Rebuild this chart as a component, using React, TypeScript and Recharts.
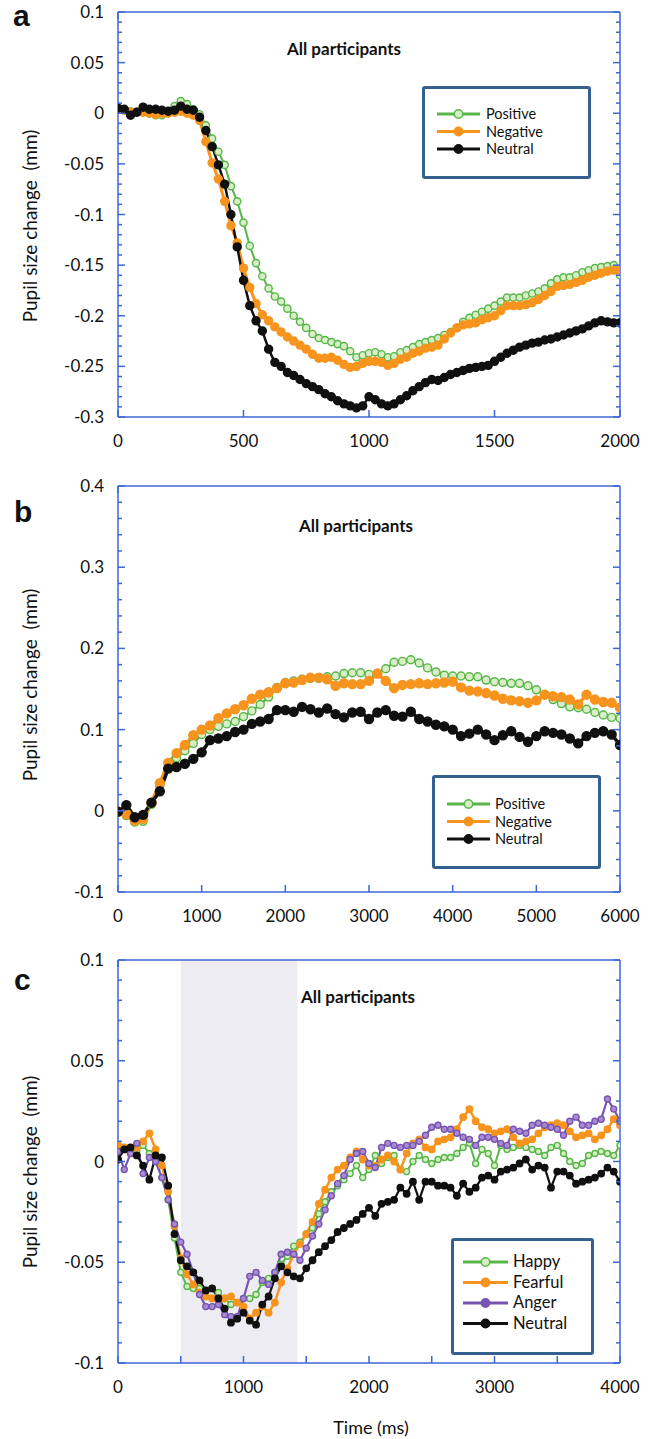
import React from 'react';
import { LineChart, Line, XAxis, YAxis, ReferenceArea } from 'recharts';

const BLUE = '#3e66d6';
const FRAME = '#33608f';
const FONT = 'Lato, "Open Sans", Arial, sans-serif';

const GREEN = '#58b649';
const GREEN_FILL = '#d7eec6';
const ORANGE = '#f7941e';
const BLACK = '#101010';
const PURPLE = '#7654b2';
const PURPLE_FILL = '#a98bd3';

// ---- panel a: 0-2000 ms, valence
const timeA = [
  0, 25, 50, 75, 100, 125, 150, 175, 200, 225, 250, 275, 300, 325, 350, 375, 400, 425, 450, 475,
  500, 525, 550, 575, 600, 625, 650, 675, 700, 725, 750, 775, 800, 825, 850, 875, 900, 925, 950, 975,
  1000, 1025, 1050, 1075, 1100, 1125, 1150, 1175, 1200, 1225, 1250, 1275, 1300, 1325, 1350, 1375, 1400, 1425, 1450, 1475,
  1500, 1525, 1550, 1575, 1600, 1625, 1650, 1675, 1700, 1725, 1750, 1775, 1800, 1825, 1850, 1875, 1900, 1925, 1950, 1975,
  2000,
];
const positiveA = [
  0.004, 0.003, 0.002, 0.001, 0.001, 0.0, -0.002, -0.002, 0.002, 0.007,
  0.012, 0.009, 0.004, -0.001, -0.012, -0.025, -0.038, -0.051, -0.072, -0.087,
  -0.108, -0.131, -0.148, -0.161, -0.173, -0.181, -0.186, -0.193, -0.2, -0.206,
  -0.212, -0.218, -0.222, -0.224, -0.226, -0.228, -0.23, -0.235, -0.241, -0.239,
  -0.237, -0.236, -0.238, -0.241, -0.24, -0.236, -0.234, -0.231, -0.228, -0.226,
  -0.224, -0.222, -0.219, -0.216, -0.212, -0.206, -0.202, -0.199, -0.196, -0.193,
  -0.19, -0.186, -0.182, -0.182, -0.182, -0.18, -0.178, -0.176, -0.173, -0.168,
  -0.164, -0.162, -0.162, -0.16, -0.157, -0.155, -0.153, -0.152, -0.151, -0.15,
  -0.16,
];
const negativeA = [
  0.004, 0.003, 0.001, 0.001, 0.001, 0.0, -0.001, 0.0, 0.0, 0.001,
  0.002, 0.0, -0.002, -0.007, -0.028, -0.049, -0.065, -0.087, -0.111, -0.128,
  -0.153, -0.172, -0.188, -0.199, -0.205, -0.211, -0.216, -0.221, -0.225, -0.229,
  -0.233, -0.238, -0.242, -0.242, -0.241, -0.244, -0.248, -0.251, -0.25, -0.247,
  -0.245, -0.245, -0.246, -0.249, -0.247, -0.243, -0.241, -0.237, -0.235, -0.232,
  -0.231, -0.229, -0.223, -0.217, -0.212, -0.209, -0.208, -0.207, -0.204, -0.202,
  -0.2, -0.195, -0.19, -0.19, -0.19, -0.189, -0.187, -0.184, -0.18, -0.176,
  -0.171, -0.17, -0.169, -0.167, -0.165, -0.162, -0.16, -0.158, -0.156, -0.155,
  -0.155,
];
const neutralA = [
  0.005, 0.004, -0.002, 0.001, 0.006, 0.004, 0.004, 0.003, 0.002, 0.003,
  0.007, 0.004, 0.003, -0.004, -0.017, -0.033, -0.051, -0.07, -0.1, -0.132,
  -0.165, -0.19, -0.205, -0.215, -0.233, -0.246, -0.25, -0.256, -0.259, -0.263,
  -0.267, -0.27, -0.273, -0.277, -0.28, -0.284, -0.287, -0.289, -0.291, -0.289,
  -0.28, -0.283, -0.287, -0.289, -0.287, -0.283, -0.279, -0.274, -0.27, -0.266,
  -0.263, -0.264, -0.261, -0.258, -0.256, -0.254, -0.252, -0.251, -0.25, -0.249,
  -0.245, -0.241, -0.237, -0.234, -0.231, -0.229, -0.227, -0.226, -0.224, -0.223,
  -0.221, -0.219, -0.217, -0.215, -0.213, -0.21, -0.207, -0.205, -0.206, -0.207,
  -0.207,
];

// ---- panel b: 0-6000 ms, valence
const timeB = [
  0, 100, 200, 300, 400, 500, 600, 700, 800, 900, 1000, 1100, 1200, 1300, 1400, 1500, 1600, 1700, 1800, 1900,
  2000, 2100, 2200, 2300, 2400, 2500, 2600, 2700, 2800, 2900, 3000, 3100, 3200, 3300, 3400, 3500, 3600, 3700, 3800, 3900,
  4000, 4100, 4200, 4300, 4400, 4500, 4600, 4700, 4800, 4900, 5000, 5100, 5200, 5300, 5400, 5500, 5600, 5700, 5800, 5900,
  6000,
];
const positiveB = [
  -0.002, -0.006, -0.014, -0.013, 0.008, 0.03, 0.052, 0.065, 0.074, 0.083,
  0.094, 0.1, 0.104, 0.107, 0.11, 0.116, 0.123, 0.131, 0.14, 0.152,
  0.158, 0.16, 0.162, 0.163, 0.163, 0.165, 0.166, 0.169, 0.17, 0.17,
  0.168, 0.169, 0.175, 0.183, 0.184, 0.186, 0.182, 0.176, 0.171, 0.167,
  0.166, 0.166, 0.165, 0.165, 0.161, 0.159, 0.158, 0.157, 0.157, 0.154,
  0.149, 0.143, 0.137, 0.132, 0.128, 0.127, 0.125, 0.121, 0.118, 0.115,
  0.114,
];
const negativeB = [
  -0.001, -0.004, -0.012, -0.01, 0.01, 0.034, 0.059, 0.071, 0.081, 0.093,
  0.1, 0.105, 0.114, 0.12, 0.125, 0.13, 0.138, 0.143, 0.146, 0.151,
  0.157, 0.158, 0.161, 0.164, 0.164, 0.162, 0.154, 0.157, 0.156, 0.156,
  0.16, 0.169, 0.16, 0.151, 0.155, 0.156, 0.157, 0.156, 0.157, 0.158,
  0.159, 0.152, 0.148, 0.147, 0.145, 0.142, 0.138, 0.136, 0.135, 0.133,
  0.136, 0.143, 0.141, 0.14, 0.137, 0.131, 0.143, 0.137, 0.134, 0.133,
  0.127,
];
const neutralB = [
  -0.001, 0.007, -0.008, -0.005, 0.01, 0.024, 0.052, 0.054, 0.058, 0.064,
  0.072, 0.087, 0.089, 0.092, 0.097, 0.1, 0.107, 0.11, 0.113, 0.124,
  0.124, 0.122, 0.128, 0.125, 0.121, 0.126, 0.119, 0.115, 0.121, 0.122,
  0.113, 0.121, 0.124, 0.117, 0.116, 0.122, 0.113, 0.11, 0.106, 0.104,
  0.1, 0.092, 0.095, 0.1, 0.094, 0.087, 0.093, 0.098, 0.091, 0.085,
  0.092, 0.098, 0.096, 0.094, 0.089, 0.083, 0.092, 0.096, 0.098, 0.094,
  0.081,
];

// ---- panel c: 0-4000 ms, expressions
const timeC = [
  0, 50, 100, 150, 200, 250, 300, 350, 400, 450, 500, 550, 600, 650, 700, 750, 800, 850, 900, 950,
  1000, 1050, 1100, 1150, 1200, 1250, 1300, 1350, 1400, 1450, 1500, 1550, 1600, 1650, 1700, 1750, 1800, 1850, 1900, 1950,
  2000, 2050, 2100, 2150, 2200, 2250, 2300, 2350, 2400, 2450, 2500, 2550, 2600, 2650, 2700, 2750, 2800, 2850, 2900, 2950,
  3000, 3050, 3100, 3150, 3200, 3250, 3300, 3350, 3400, 3450, 3500, 3550, 3600, 3650, 3700, 3750, 3800, 3850, 3900, 3950,
  4000,
];
const happyC = [
  0.008, 0.007, 0.006, 0.005, 0.008, 0.004, 0.0, -0.008, -0.019, -0.038,
  -0.055, -0.062, -0.063, -0.063, -0.064, -0.063, -0.065, -0.068, -0.071, -0.07,
  -0.068, -0.068, -0.066, -0.06, -0.058, -0.055, -0.051, -0.047, -0.042, -0.04,
  -0.036, -0.033, -0.026, -0.02, -0.015, -0.012, -0.009, -0.006, -0.002, -0.008,
  -0.004, 0.003, -0.001, 0.002, 0.003, -0.004, -0.005, 0.0, 0.003, 0.001,
  -0.001, 0.001, 0.002, 0.002, 0.004, 0.007, 0.009, -0.001, 0.006, 0.004,
  -0.002, 0.008, 0.006, 0.007, 0.008, 0.007, 0.006, 0.005, 0.003, 0.007,
  0.008, 0.004, 0.0, -0.002, -0.001, 0.003, 0.004, 0.005, 0.004, 0.003,
  0.008,
];
const fearfulC = [
  0.008, 0.007, 0.004, 0.007, 0.01, 0.014, 0.006, -0.002, -0.015, -0.032,
  -0.048, -0.056, -0.061, -0.065, -0.067, -0.068, -0.068, -0.068, -0.067, -0.07,
  -0.072, -0.078, -0.075, -0.072, -0.075, -0.07, -0.06, -0.053, -0.046, -0.041,
  -0.036, -0.03, -0.021, -0.014, -0.008, -0.004, -0.002, 0.002, 0.005, 0.001,
  -0.002, -0.002, 0.001, 0.003, 0.0, -0.004, 0.004, 0.009, 0.011, 0.007,
  0.006, 0.01, 0.011, 0.012, 0.016, 0.022, 0.026, 0.02, 0.017, 0.016,
  0.014, 0.015, 0.016, 0.012, 0.009, 0.01, 0.011, 0.014, 0.017, 0.018,
  0.019, 0.018, 0.015, 0.012, 0.013, 0.014, 0.011, 0.013, 0.016, 0.021,
  0.018,
];
const angerC = [
  0.005, -0.004, 0.004, 0.009, -0.006, 0.002, 0.0, -0.008, -0.019, -0.031,
  -0.04, -0.046, -0.055, -0.066, -0.072, -0.072, -0.071, -0.076, -0.077, -0.077,
  -0.068, -0.057, -0.055, -0.059, -0.061, -0.055, -0.046, -0.045, -0.046, -0.049,
  -0.043, -0.037, -0.031, -0.024, -0.017, -0.011, -0.007, 0.001, 0.004, 0.005,
  -0.001, -0.003, 0.007, 0.009, 0.008, 0.007, 0.008, 0.008, 0.01, 0.013,
  0.017, 0.018, 0.016, 0.016, 0.014, 0.012, 0.011, 0.008, 0.012, 0.012,
  0.011, 0.009, 0.008, 0.016, 0.015, 0.014, 0.018, 0.019, 0.018, 0.017,
  0.016, 0.013, 0.02, 0.022, 0.018, 0.018, 0.02, 0.021, 0.031, 0.026,
  0.02,
];
const neutralC = [
  0.001, 0.006, 0.007, 0.003, -0.002, -0.009, 0.003, 0.002, -0.012, -0.036,
  -0.049, -0.052, -0.055, -0.059, -0.064, -0.063, -0.068, -0.073, -0.08, -0.078,
  -0.075, -0.079, -0.081, -0.071, -0.067, -0.058, -0.052, -0.055, -0.057, -0.058,
  -0.053, -0.049, -0.045, -0.042, -0.039, -0.035, -0.033, -0.031, -0.029, -0.026,
  -0.023, -0.027, -0.021, -0.02, -0.019, -0.013, -0.016, -0.01, -0.019, -0.01,
  -0.01, -0.012, -0.012, -0.013, -0.017, -0.011, -0.015, -0.013, -0.008, -0.007,
  -0.009, -0.005, -0.004, -0.003, -0.001, 0.001, -0.004, -0.002, -0.003, -0.013,
  -0.005, -0.005, -0.007, -0.011, -0.01, -0.009, -0.008, -0.006, -0.003, -0.005,
  -0.01,
];

// axis labels
const xLabelsA = [0, 500, 1000, 1500, 2000];
const yLabelsA = [-0.3, -0.25, -0.2, -0.15, -0.1, -0.05, 0, 0.05, 0.1];
const xLabelsB = [0, 1000, 2000, 3000, 4000, 5000, 6000];
const yLabelsB = [-0.1, 0, 0.1, 0.2, 0.3, 0.4];
const xLabelsC = [0, 1000, 2000, 3000, 4000];
const yLabelsC = [-0.1, -0.05, 0, 0.05, 0.1];
const shadeC = [500, 1430];

// fill minor ticks between labelled ones
const withMinor = (majors: number[], per: number) => {
  const out: number[] = [];
  for (let i = 0; i < majors.length - 1; i++) {
    for (let k = 0; k < per; k++) {
      out.push(+(majors[i] + ((majors[i + 1] - majors[i]) * k) / per).toFixed(4));
    }
  }
  out.push(majors[majors.length - 1]);
  return out;
};

const fmt = (v: number) => String(+v.toFixed(3));

// inward tick + optional label
const AxisTick = (props: any) => {
  const { x, y, payload, side, labels, showText, allLong } = props;
  const v = payload.value;
  const labelled = labels.some((m: number) => Math.abs(m - v) < 1e-6);
  const len = labelled || allLong ? 7 : 4;
  let tick;
  if (side === 'bottom') tick = <line x1={x} y1={y} x2={x} y2={y - len} />;
  else if (side === 'top') tick = <line x1={x} y1={y} x2={x} y2={y + len} />;
  else if (side === 'left') tick = <line x1={x} y1={y} x2={x + len} y2={y} />;
  else tick = <line x1={x} y1={y} x2={x - len} y2={y} />;
  return (
    <g>
      <g stroke={BLUE} strokeWidth={1.5}>{tick}</g>
      {showText && labelled && side === 'bottom' && (
        <text x={x} y={y + 30} textAnchor="middle" fontSize={17} fontFamily={FONT} fill="#111">
          {fmt(v)}
        </text>
      )}
      {showText && labelled && side === 'left' && (
        <text x={x - 14} y={y + 6} textAnchor="end" fontSize={17} fontFamily={FONT} fill="#111">
          {fmt(v)}
        </text>
      )}
    </g>
  );
};

type Series = { key: string; name: string; values: number[]; stroke: string; fill: string; r: number; width: number };

type PanelProps = {
  top: number;
  height: number;
  marginTop: number;
  marginBottom: number;
  time: number[];
  series: Series[];
  xLabels: number[];
  xTicks: number[];
  yLabels: number[];
  yTicks: number[];
  shade?: number[];
};

// plot area spans x 118..620; the four 1px axes sit just outside it
const Panel = ({ top, height, marginTop, marginBottom, time, series, xLabels, xTicks, yLabels, yTicks, shade }: PanelProps) => {
  const data = time.map((t, i) => {
    const row: any = { t };
    series.forEach((s) => (row[s.key] = s.values[i]));
    return row;
  });
  const xDomain = [xLabels[0], xLabels[xLabels.length - 1]];
  const yDomain = [yLabels[0], yLabels[yLabels.length - 1]];
  const axisLine = { stroke: BLUE, strokeWidth: 1.5 };
  return (
    <div style={{ position: 'absolute', left: 0, top }}>
      <LineChart width={652} height={height} data={data}
        margin={{ top: marginTop - 1, right: 31, bottom: marginBottom - 1, left: 117 }}>
        <XAxis dataKey="t" type="number" domain={xDomain} ticks={xTicks} interval={0} height={1} tickSize={0} tickMargin={0}
          tickLine={false} axisLine={axisLine} allowDataOverflow
          tick={(p: any) => <AxisTick {...p} side="bottom" labels={xLabels} showText allLong />} />
        <XAxis xAxisId="top" orientation="top" type="number" domain={xDomain} ticks={xTicks} interval={0} height={1} tickSize={0}
          tickMargin={0} tickLine={false} axisLine={axisLine} allowDataOverflow
          tick={(p: any) => <AxisTick {...p} side="top" labels={xLabels} allLong />} />
        <YAxis type="number" domain={yDomain} ticks={yTicks} interval={0} width={1} tickSize={0} tickMargin={0}
          tickLine={false} axisLine={axisLine} allowDataOverflow
          tick={(p: any) => <AxisTick {...p} side="left" labels={yLabels} showText />} />
        <YAxis yAxisId="right" orientation="right" type="number" domain={yDomain} ticks={yTicks} interval={0} width={1}
          tickSize={0} tickMargin={0} tickLine={false} axisLine={axisLine} allowDataOverflow
          tick={(p: any) => <AxisTick {...p} side="right" labels={yLabels} />} />
        {shade && <ReferenceArea x1={shade[0]} x2={shade[1]} fill="#eeecf3" fillOpacity={1} stroke="none" />}
        {series.map((s) => (
          <Line key={s.key} dataKey={s.key} name={s.name} stroke={s.stroke} strokeWidth={s.width} isAnimationActive={false}
            dot={{ r: s.r, fill: s.fill, stroke: s.stroke, strokeWidth: 1.4 }} activeDot={false} />
        ))}
      </LineChart>
    </div>
  );
};

const seriesA: Series[] = [
  { key: 'positive', name: 'Positive', values: positiveA, stroke: GREEN, fill: GREEN_FILL, r: 3.6, width: 2 },
  { key: 'negative', name: 'Negative', values: negativeA, stroke: ORANGE, fill: ORANGE, r: 4, width: 3 },
  { key: 'neutral', name: 'Neutral', values: neutralA, stroke: BLACK, fill: BLACK, r: 4, width: 2.5 },
];
const seriesB: Series[] = [
  { key: 'positive', name: 'Positive', values: positiveB, stroke: GREEN, fill: GREEN_FILL, r: 4, width: 2.5 },
  { key: 'negative', name: 'Negative', values: negativeB, stroke: ORANGE, fill: ORANGE, r: 4.5, width: 3.5 },
  { key: 'neutral', name: 'Neutral', values: neutralB, stroke: BLACK, fill: BLACK, r: 4.5, width: 3.5 },
];
const seriesC: Series[] = [
  { key: 'happy', name: 'Happy', values: happyC, stroke: GREEN, fill: GREEN_FILL, r: 3, width: 2 },
  { key: 'fearful', name: 'Fearful', values: fearfulC, stroke: ORANGE, fill: ORANGE, r: 3.2, width: 2.5 },
  { key: 'anger', name: 'Anger', values: angerC, stroke: PURPLE, fill: PURPLE_FILL, r: 3, width: 2.2 },
  { key: 'neutral', name: 'Neutral', values: neutralC, stroke: BLACK, fill: BLACK, r: 3.2, width: 2.2 },
];

type LegendProps = { left: number; top: number; w: number; h: number; items: Series[]; row0: number; gap: number; x0: number; x1: number; tx: number; fs: number };

const LegendBox = ({ left, top, w, h, items, row0, gap, x0, x1, tx, fs }: LegendProps) => (
  <g>
    <rect x={left + 1.5} y={top + 1.5} width={w - 3} height={h - 3} fill="#fff" stroke={FRAME} strokeWidth={3} rx={1.5} />
    {items.map((s, i) => {
      const cy = top + row0 + i * gap;
      return (
        <g key={s.key}>
          <line x1={left + x0} y1={cy} x2={left + x1} y2={cy} stroke={s.stroke} strokeWidth={3} />
          <circle cx={left + (x0 + x1) / 2} cy={cy} r={4.2} fill={s.fill === GREEN_FILL ? GREEN_FILL : s.stroke} stroke={s.stroke} strokeWidth={1.5} />
          <text x={left + tx} y={cy + 5} fontSize={fs} fontFamily={FONT} fill="#111">{s.name}</text>
        </g>
      );
    })}
  </g>
);

const Y_TITLE = 'Pupil size change\u00a0 (mm)';

const Overlay = () => (
  <svg width={652} height={1439} style={{ position: 'absolute', left: 0, top: 0, pointerEvents: 'none' }}>
    <g fontFamily="Arial, 'Liberation Sans', sans-serif" fontWeight="bold" fontSize={30} fill="#111">
      <text x={13} y={26}>a</text>
      <text x={14} y={522}>b</text>
      <text x={14} y={990}>c</text>
    </g>
    <g fontFamily={FONT} fontWeight="bold" fontSize={17} fill="#111" textAnchor="middle">
      <text x={344} y={55}>All participants</text>
      <text x={356} y={532}>All participants</text>
      <text x={358} y={1003}>All participants</text>
    </g>
    <g fontFamily={FONT} fontSize={19} fill="#111" textAnchor="middle">
      <text x={31} y={226} transform="rotate(-90 31 226)" dy={6}>{Y_TITLE}</text>
      <text x={31} y={685} transform="rotate(-90 31 685)" dy={6}>{Y_TITLE}</text>
      <text x={31} y={1172} transform="rotate(-90 31 1172)" dy={6}>{Y_TITLE}</text>
      <text x={371} y={1434} fontSize={18}>Time (ms)</text>
    </g>
    <LegendBox left={422} top={86} w={169} h={93} items={seriesA} row0={28} gap={17.5} x0={15} x1={58} tx={64} fs={14.5} />
    <LegendBox left={432} top={775} w={169} h={94} items={seriesB} row0={29} gap={17.5} x0={15} x1={58} tx={63} fs={14.5} />
    <LegendBox left={451} top={1238} w={143} h={117} items={seriesC} row0={24} gap={20.5} x0={12} x1={57} tx={62} fs={16.5} />
  </svg>
);

export default function App() {
  return (
    <div style={{ position: 'absolute', left: 0, top: 0, width: 652, height: 1439, background: '#fff' }}>
      <Panel top={0} height={460} marginTop={12} marginBottom={43} time={timeA} series={seriesA}
        xLabels={xLabelsA} xTicks={xLabelsA} yLabels={yLabelsA} yTicks={withMinor(yLabelsA, 5)} />
      <Panel top={460} height={480} marginTop={26} marginBottom={48} time={timeB} series={seriesB}
        xLabels={xLabelsB} xTicks={xLabelsB} yLabels={yLabelsB} yTicks={withMinor(yLabelsB, 5)} />
      <Panel top={940} height={499} marginTop={20} marginBottom={76} time={timeC} series={seriesC}
        xLabels={xLabelsC} xTicks={withMinor(xLabelsC, 2)} yLabels={yLabelsC} yTicks={withMinor(yLabelsC, 5)} shade={shadeC} />
      <Overlay />
    </div>
  );
}
